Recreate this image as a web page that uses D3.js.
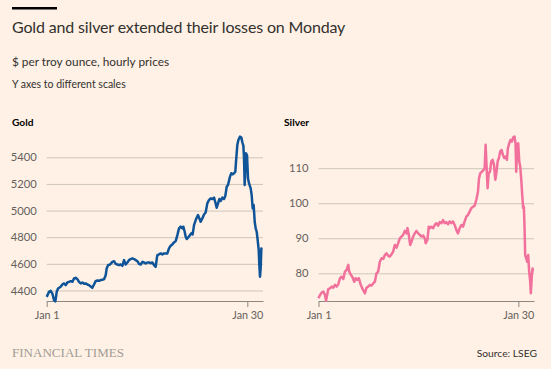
<!DOCTYPE html>
<html>
<head>
<meta charset="utf-8">
<script src="https://cdn.jsdelivr.net/npm/d3@7"></script>
<style>
  html, body { margin: 0; padding: 0; background: #FFF1E5; }
  svg { display: block; }
</style>
</head>
<body>
<svg id="chart" width="551" height="369"></svg>
<script>
// ---- Data (days since 1 Jan 2026, $ per troy ounce) ----
const goldDays = [0,0.34,0.58,0.82,1.06,1.25,1.45,1.64,2.02,2.26,2.51,2.75,2.99,3.23,3.47,3.71,3.95,4.19,4.43,4.67,4.92,5.16,5.40,5.64,5.88,6.12,6.36,6.60,6.84,7.08,7.32,7.57,7.81,8.05,8.29,8.53,8.67,8.87,9.16,9.49,9.73,9.98,10.22,10.46,10.70,10.94,11.18,11.42,11.66,11.90,12.14,12.39,12.63,12.87,13.11,13.35,13.59,13.84,14.07,14.31,14.55,14.79,15.04,15.28,15.52,15.75,15.99,16.24,16.48,16.72,16.96,17.20,17.44,17.68,17.92,18.16,18.40,18.65,18.89,19.13,19.37,19.61,19.75,19.95,20.09,20.24,20.43,20.72,20.91,21.10,21.30,21.54,21.68,21.87,22.07,22.26,22.50,22.74,22.98,23.22,23.46,23.71,23.95,24.19,24.38,24.57,24.77,24.96,25.15,25.39,25.63,25.83,26.02,26.21,26.50,26.69,26.89,27.08,27.27,27.37,27.56,27.71,27.95,28.14,28.28,28.43,28.52,28.62,28.72,28.81,28.96,29.10,29.25,29.49,29.63,29.78,29.92,30.07,30.21,30.36,30.50,30.65,30.74,30.84,30.93,31.03,31.13];
const goldValues = [4352,4390,4397,4377,4327,4318,4390,4415,4428,4445,4453,4440,4460,4465,4470,4465,4490,4495,4485,4465,4453,4460,4450,4453,4445,4440,4430,4420,4445,4470,4475,4473,4478,4480,4485,4515,4565,4590,4595,4615,4620,4600,4595,4590,4595,4585,4628,4595,4610,4628,4636,4641,4636,4628,4620,4600,4595,4615,4610,4603,4610,4610,4605,4610,4590,4578,4666,4671,4678,4671,4678,4678,4678,4716,4736,4746,4761,4771,4816,4866,4879,4866,4879,4841,4803,4786,4796,4816,4829,4821,4891,4929,4946,4966,4941,4916,4941,4971,4986,5054,5079,5092,5087,5097,5062,5021,5054,5087,5072,5097,5087,5112,5179,5192,5255,5280,5272,5280,5292,5367,5493,5530,5555,5548,5513,5488,5405,5192,5317,5430,5417,5242,5204,5167,5117,5016,5042,4916,4866,4841,4778,4703,4590,4503,4565,4716,4711];

const silverDays = [0,0.22,0.46,0.70,0.94,1.09,1.42,1.66,1.91,2.15,2.39,2.63,2.87,3.11,3.35,3.60,3.84,4.08,4.32,4.46,4.71,4.90,5.19,5.38,5.62,5.86,6.10,6.35,6.59,6.73,6.97,7.21,7.46,7.70,7.94,8.18,8.42,8.66,8.90,9.15,9.39,9.63,9.87,10.11,10.35,10.59,10.83,11.08,11.32,11.56,11.80,12.04,12.28,12.52,12.77,12.91,13.10,13.30,13.49,13.73,13.97,14.21,14.46,14.70,14.94,15.18,15.42,15.56,15.80,16.00,16.19,16.38,16.63,16.87,17.11,17.35,17.59,17.83,18.07,18.31,18.56,18.80,19.04,19.28,19.52,19.76,20.00,20.24,20.49,20.73,20.97,21.21,21.45,21.69,21.93,22.18,22.42,22.66,22.90,23.14,23.29,23.48,23.72,23.96,24.11,24.25,24.40,24.54,24.69,24.88,25.07,25.26,25.46,25.65,25.84,25.99,26.18,26.37,26.57,26.76,26.95,27.15,27.34,27.48,27.68,27.87,28.06,28.26,28.45,28.59,28.69,28.84,28.98,29.13,29.27,29.41,29.56,29.70,29.80,29.90,29.99,30.14,30.28,30.43,30.57,30.72,30.81,30.96,31.06,31.10];
const silverValues = [72.9,73.8,74.5,74.8,73.8,72.2,75.5,75.7,76.2,75.9,76.7,76.2,76.9,78.6,79.0,78.4,80.5,81.0,82.4,80.5,79.5,79.0,77.6,78.6,78.1,78.6,76.9,75.7,74.8,74.3,75.9,76.2,76.7,76.5,77.1,77.6,80.0,80.5,83.3,84.3,84.1,85.2,85.7,85.0,84.8,85.4,86.2,88.1,87.3,88.6,90.0,90.5,91.0,92.1,91.4,92.9,91.0,88.1,89.0,90.5,91.4,92.1,91.4,91.0,90.5,90.8,90.0,88.6,89.5,93.3,92.9,93.3,92.9,93.8,94.3,93.6,94.6,94.3,95.2,94.3,94.6,94.0,94.8,94.3,94.8,93.8,92.4,91.4,92.9,93.8,93.3,94.8,96.2,96.7,97.6,98.6,99.0,99.3,101.0,103.3,107.1,108.6,109.0,109.5,110.0,116.7,110.0,104.3,108.6,109.0,111.9,112.4,111.0,106.7,109.0,111.9,112.9,114.8,115.2,113.8,112.9,113.3,112.4,115.7,117.1,118.1,117.6,118.8,119.0,117.1,109.0,116.7,117.1,111.9,110.5,107.1,102.4,98.6,99.0,92.9,85.2,84.3,83.3,85.2,80.5,77.6,74.3,79.5,81.4,80.5];

const goldTicks = [4400, 4600, 4800, 5000, 5200, 5400];
const silverTicks = [80, 90, 100, 110];
const xTickDates = ["2026-01-01", "2026-01-30"];
const xTickLabels = ["Jan 1", "Jan 30"];

// ---- Layout ----
const SANS = "Lato, 'Noto Sans', sans-serif";
const svg = d3.select("#chart");
svg.append("rect").attr("width", 551).attr("height", 369).attr("fill", "#FFF1E5");

const start = new Date(2026, 0, 1);
const toDate = d => new Date(start.getTime() + d * 864e5);
const endDate = toDate(31.27);

// header
svg.append("rect").attr("x", 12).attr("y", 7).attr("width", 45).attr("height", 2.5).attr("fill", "#000");
svg.append("text").attr("x", 12).attr("y", 33.3).style("font-family", SANS).style("font-size", "16px")
  .style("letter-spacing", "-0.15px").attr("fill", "#33302E")
  .text("Gold and silver extended their losses on Monday");
svg.append("text").attr("x", 12).attr("y", 66).style("font-family", SANS).style("font-size", "11.8px")
  .attr("fill", "#33302E")
  .text("$ per troy ounce, hourly prices");
svg.append("text").attr("x", 12).attr("y", 87.5).style("font-family", SANS).style("font-size", "10.5px")
  .attr("fill", "#33302E")
  .text("Y axes to different scales");

function panel(cfg) {
  const x = d3.scaleTime().domain([start, endDate]).range([cfg.x0, cfg.x1]);
  const y = d3.scaleLinear().domain(cfg.yDomain).range([301, 130]);
  const g = svg.append("g");

  g.append("text").attr("x", cfg.titleX).attr("y", 125.5).style("font-family", SANS).style("font-size", "10.2px")
    .style("font-weight", "bold").attr("fill", "#000").text(cfg.title);

  // gridlines + y labels
  const ya = d3.axisLeft(y).tickValues(cfg.ticks).tickSize(-(cfg.x1 - cfg.x0)).tickPadding(10)
    .tickFormat(d3.format("d"));
  const yg = g.append("g").attr("transform", `translate(${cfg.x0},0)`).call(ya);
  yg.select(".domain").remove();
  yg.selectAll(".tick line").attr("stroke", "#CEC5BA").attr("stroke-width", 1);
  yg.selectAll(".tick text").style("font-size", "11.2px").attr("fill", "#66605C").style("font-family", SANS);

  // x axis
  const xa = d3.axisBottom(x).tickValues(xTickDates.map(s => new Date(s + "T00:00:00")))
    .tickSize(6).tickSizeOuter(0).tickPadding(4)
    .tickFormat((d, i) => xTickLabels[i]);
  const xg = g.append("g").attr("transform", "translate(0,301)").call(xa);
  xg.select(".domain").attr("stroke", "#8E8781").attr("stroke-width", 1);
  xg.selectAll(".tick line").attr("stroke", "#8E8781");
  xg.selectAll(".tick text").style("font-size", "10.8px").attr("fill", "#66605C").style("font-family", SANS);

  const data = cfg.days.map((d, i) => [toDate(d), cfg.values[i]]);
  const line = d3.line().x(d => x(d[0])).y(d => y(d[1])).curve(d3.curveLinear);
  g.append("path").datum(data).attr("d", line).attr("fill", "none")
    .attr("stroke", cfg.color).attr("stroke-width", 2.5).attr("stroke-linejoin", "round");
}

panel({ title: "Gold", titleX: 12, x0: 46.7, x1: 263, yDomain: [4321, 5605], ticks: goldTicks,
  days: goldDays, values: goldValues, color: "#0F5499" });
panel({ title: "Silver", titleX: 284, x0: 318.5, x1: 534, yDomain: [72.1, 120.9], ticks: silverTicks,
  days: silverDays, values: silverValues, color: "#F2709C" });

// footer
svg.append("text").attr("x", 12).attr("y", 357)
  .style("font-family", "'Liberation Serif', 'DejaVu Serif', serif").style("font-size", "13.5px")
  .attr("fill", "#A39C95")
  .attr("textLength", 112).attr("lengthAdjust", "spacingAndGlyphs").text("FINANCIAL TIMES");
svg.append("text").attr("x", 537).attr("y", 357).style("font-family", SANS).style("font-size", "10.3px")
  .attr("text-anchor", "end").attr("fill", "#33302E").text("Source: LSEG");
</script>
</body>
</html>
